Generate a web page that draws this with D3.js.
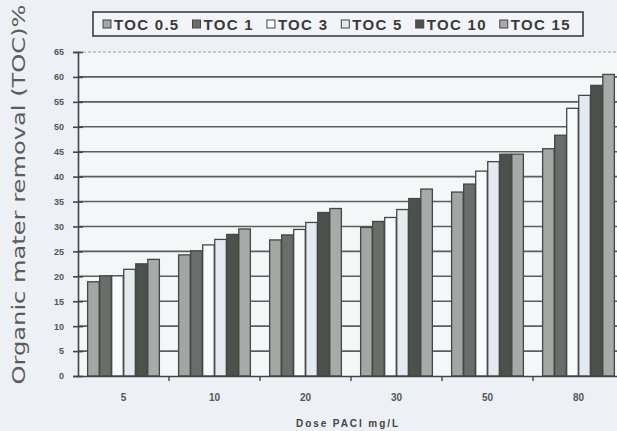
<!DOCTYPE html>
<html>
<head>
<meta charset="utf-8">
<script src="https://cdn.jsdelivr.net/npm/d3@7"></script>
<style>
  html, body { margin: 0; padding: 0; background: #edf0f5; overflow: hidden; }
  svg { display: block; }
</style>
</head>
<body>
<svg id="chart" width="617" height="431"></svg>
<script>
// ---- data ----
const doses = ["5", "10", "20", "30", "50", "80"];
const seriesNames = ["TOC 0.5", "TOC 1", "TOC 3", "TOC 5", "TOC 10", "TOC 15"];
const toc05 = [18.9, 24.3, 27.3, 29.8, 36.9, 45.6];
const toc1  = [20.1, 25.1, 28.3, 31.0, 38.5, 48.3];
const toc3  = [20.1, 26.3, 29.4, 31.8, 41.1, 53.7];
const toc5  = [21.4, 27.4, 30.8, 33.4, 43.0, 56.3];
const toc10 = [22.5, 28.4, 32.8, 35.6, 44.5, 58.3];
const toc15 = [23.4, 29.5, 33.6, 37.5, 44.5, 60.5];
const yTicks = [0, 5, 10, 15, 20, 25, 30, 35, 40, 45, 50, 55, 60, 65];
const colors = ["#a4a6a4", "#6a6e6a", "#f9fafb", "#e4eaf0", "#4c514c", "#a7aaa8"];

const allSeries = [toc05, toc1, toc3, toc5, toc10, toc15];
const table = doses.map((d, i) => ({ dose: d, values: allSeries.map((s, j) => ({ key: seriesNames[j], value: s[i] })) }));

// ---- layout ----
const svg = d3.select("#chart");
const mLeft = 78, mRight = 624, mTop = 52, mBottom = 376;

const x0 = d3.scaleBand().domain(doses).range([mLeft, mRight]).padding(0);
const x1 = d3.scaleBand().domain(seriesNames).range([0, x0.bandwidth()]).paddingInner(0.04).paddingOuter(0.8);
const y = d3.scaleLinear().domain([0, 65]).range([mBottom, mTop]);
const color = d3.scaleOrdinal().domain(seriesNames).range(colors);

// plot background
svg.append("rect").attr("x", mLeft).attr("y", mTop).attr("width", mRight - mLeft).attr("height", mBottom - mTop)
  .attr("fill", "#f5f6f8");

// gridlines
svg.append("g").selectAll("line").data(yTicks.filter(t => t > 0 && t < 65)).join("line")
  .attr("x1", mLeft).attr("x2", mRight)
  .attr("y1", d => y(d)).attr("y2", d => y(d))
  .attr("stroke", "#5c5e5c").attr("stroke-width", 1.6);
svg.append("line").attr("x1", mLeft).attr("x2", mRight).attr("y1", y(65)).attr("y2", y(65))
  .attr("stroke", "#8a8c8a").attr("stroke-width", 0.8).attr("stroke-dasharray", "3,2");

// bars
const groups = svg.append("g").selectAll("g").data(table).join("g")
  .attr("transform", d => `translate(${x0(d.dose)},0)`);
groups.selectAll("rect").data(d => d.values).join("rect")
  .attr("x", d => x1(d.key))
  .attr("y", d => y(d.value))
  .attr("width", x1.bandwidth())
  .attr("height", d => y(0) - y(d.value))
  .attr("fill", d => color(d.key))
  .attr("stroke", "#454745").attr("stroke-width", 1.3);

// y axis
const yAxis = d3.axisLeft(y).tickValues(yTicks).tickSize(5).tickPadding(9);
const gy = svg.append("g").attr("transform", `translate(${mLeft},0)`).call(yAxis);
gy.select(".domain").attr("stroke", "#444").attr("stroke-width", 1.6);
gy.selectAll(".tick line").attr("stroke", "#444").attr("stroke-width", 1.6).attr("x2", -5).attr("x1", 5);
gy.selectAll(".tick text").attr("fill", "#555").attr("font-family", "Liberation Sans Narrow, Liberation Sans, Arial, sans-serif")
  .attr("font-size", 9).attr("font-weight", "bold");

// x axis
const xAxis = d3.axisBottom(x0).tickSize(0).tickPadding(18);
const gx = svg.append("g").attr("transform", `translate(0,${mBottom})`).call(xAxis);
gx.select(".domain").attr("stroke", "#444").attr("stroke-width", 1.6);
gx.selectAll(".tick text").attr("fill", "#555").attr("font-family", "Liberation Sans, Arial, sans-serif")
  .attr("font-size", 10).attr("font-weight", "bold");
// separator ticks between groups
svg.append("g").selectAll("line").data(doses.slice(1)).join("line")
  .attr("x1", d => x0(d)).attr("x2", d => x0(d))
  .attr("y1", mBottom).attr("y2", mBottom + 5)
  .attr("stroke", "#444").attr("stroke-width", 1.4);

// axis titles
svg.append("text")
  .attr("transform", `translate(25,${(mBottom + 10 + 3) / 2}) rotate(-90)`)
  .attr("text-anchor", "middle")
  .attr("font-family", "DejaVu Sans, Verdana, sans-serif")
  .attr("font-size", 18).attr("fill", "#5a5c5e")
  .attr("textLength", 380).attr("lengthAdjust", "spacingAndGlyphs")
  .text("Organic mater removal (TOC)%");

svg.append("text")
  .attr("x", 347).attr("y", 427)
  .attr("text-anchor", "middle")
  .attr("font-family", "Liberation Sans Narrow, Liberation Sans, Arial, sans-serif")
  .attr("font-size", 10).attr("font-weight", "bold").attr("fill", "#444")
  .attr("textLength", 102).attr("lengthAdjust", "spacing")
  .text("Dose PACl mg/L");

// legend
const lg = svg.append("g");
lg.append("rect").attr("x", 93).attr("y", 12).attr("width", 490).attr("height", 24)
  .attr("fill", "#f2f4f7").attr("stroke", "#3e403e").attr("stroke-width", 1.6);
let cursor = 103;
seriesNames.forEach((name) => {
  lg.append("rect").attr("x", cursor).attr("y", 20).attr("width", 8).attr("height", 8)
    .attr("fill", color(name)).attr("stroke", "#444").attr("stroke-width", 1);
  const t = lg.append("text").attr("x", cursor + 11).attr("y", 29.5)
    .attr("font-family", "Liberation Sans, Arial, sans-serif")
    .attr("font-size", 15).attr("font-weight", "bold").attr("fill", "#3a3a3a")
    .attr("letter-spacing", 1.3)
    .text(name);
  const w = t.node().getComputedTextLength();
  cursor = cursor + 11 + w + 13;
});
</script>
</body>
</html>
